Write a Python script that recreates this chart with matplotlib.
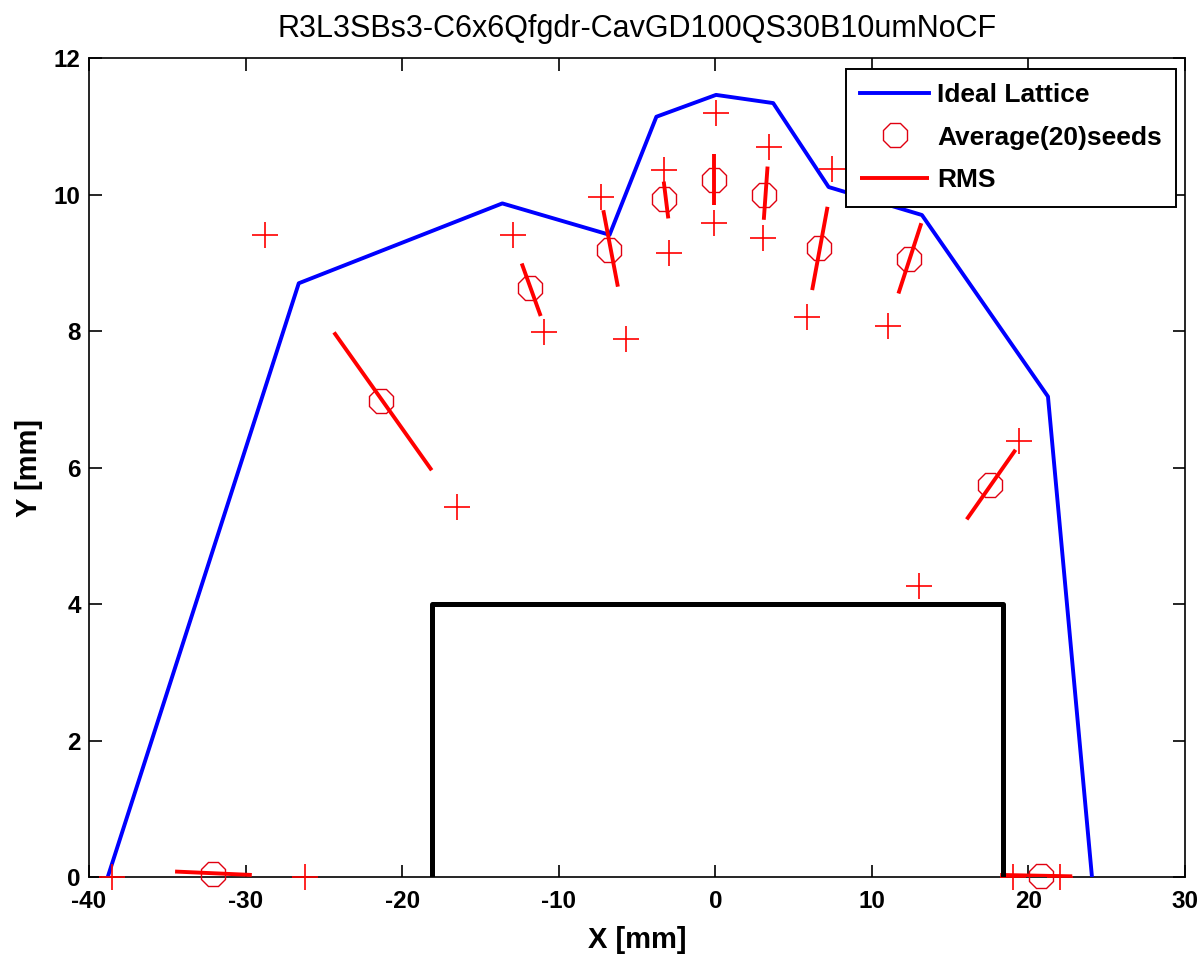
import numpy as np
import matplotlib
matplotlib.use("Agg")
import matplotlib.pyplot as plt

plt.rcParams['font.family'] = ['Liberation Sans', 'DejaVu Sans']
plt.rcParams['axes.unicode_minus'] = False

# ideal lattice aperture (mm)
ideal_x = [-38.8, -26.6, -13.6, -6.75, -3.76, 0.05, 3.7, 7.24, 13.2, 21.25, 24.06]
ideal_y = [0.0, 8.70, 9.87, 9.41, 11.14, 11.46, 11.34, 10.11, 9.70, 7.04, 0.0]

# individual seeds
seed_x = [-28.74, -12.89, -10.94, -16.52, -5.73, -7.27, -3.29, -2.93, 0.05, -0.08,
          3.46, 3.04, 7.43, 5.85, 11.06, 13.04, 19.43, -38.5, -26.2, 19.0, 22.0]
seed_y = [9.40, 9.40, 7.98, 5.42, 7.89, 9.97, 10.36, 9.15, 11.19, 9.58,
          10.70, 9.36, 10.38, 8.21, 8.07, 4.27, 6.39, 0.0, 0.0, 0.0, 0.0]

# average over 20 seeds
avg_x = [-21.35, -11.85, -6.78, -3.25, -0.08, 3.14, 6.62, 12.36, 17.52, -32.1, 20.8]
avg_y = [6.97, 8.63, 9.19, 9.93, 10.21, 10.00, 9.21, 9.06, 5.75, 0.05, 0.02]

# rms segments (start / end)
rms_x0 = [-24.35, -12.36, -7.15, -3.29, -0.08, 3.34, 7.17, 13.16, 19.18, -34.5, 18.2]
rms_y0 = [7.98, 8.99, 9.77, 10.19, 10.60, 10.41, 9.82, 9.58, 6.26, 0.08, 0.03]
rms_x1 = [-18.11, -11.15, -6.22, -3.00, -0.08, 3.10, 6.19, 11.70, 16.06, -29.6, 22.8]
rms_y1 = [5.96, 8.22, 8.65, 9.65, 9.84, 9.63, 8.60, 8.55, 5.24, 0.03, 0.01]

# vacuum chamber outline
box_x = [-18.1, -18.1, 18.4, 18.4]
box_y = [0.0, 4.0, 4.0, 0.0]

fig = plt.figure(figsize=(11.99, 9.61), dpi=100)
ax = fig.add_axes([0.0742, 0.0874, 0.9141, 0.8522])

ax.plot(ideal_x, ideal_y, color='#0000ff', lw=2.8, label='Ideal Lattice', zorder=3)
ax.plot(seed_x, seed_y, '+', color='#ff0000', ms=19, mew=1.2, clip_on=False, zorder=4)
ax.plot(avg_x, avg_y, '8', mfc='none', mec='#e00010', ms=18, mew=1.0,
        clip_on=False, zorder=5, label='Average(20)seeds')
for i in range(len(rms_x0)):
    ax.plot([rms_x0[i], rms_x1[i]], [rms_y0[i], rms_y1[i]], color='#ff0000',
            lw=2.8, solid_capstyle='butt', zorder=6,
            label='RMS' if i == 0 else None)
ax.plot(box_x, box_y, color='black', lw=3.6, zorder=7)

ax.set_xlim(-40, 30)
ax.set_ylim(0, 12)
ax.set_xticks(np.arange(-40, 31, 10))
ax.set_yticks(np.arange(0, 13, 2))
ax.tick_params(direction='in', length=9, width=1.2, top=True, right=True,
               labelsize=17.5)
ax.tick_params(axis='x', pad=9)
ax.tick_params(axis='y', pad=6)
for lbl in ax.get_xticklabels() + ax.get_yticklabels():
    lbl.set_fontweight('bold')
for sp in ax.spines.values():
    sp.set_linewidth(1.2)

ax.set_xlabel('X [mm]', fontsize=21, fontweight='bold', labelpad=10)
ax.set_ylabel('Y [mm]', fontsize=21, fontweight='bold', labelpad=8)
ax.set_title('R3L3SBs3-C6x6Qfgdr-CavGD100QS30B10umNoCF', fontsize=22, pad=15)

leg = ax.legend(loc='upper right', bbox_to_anchor=(0.992, 0.987), borderaxespad=0,
                fancybox=False, edgecolor='black', framealpha=1,
                prop={'size': 19, 'weight': 'bold'}, handlelength=2.6,
                handletextpad=0.3, labelspacing=0.7, borderpad=0.55)
leg.get_frame().set_linewidth(1.4)

fig.savefig('out.png', dpi=100)
